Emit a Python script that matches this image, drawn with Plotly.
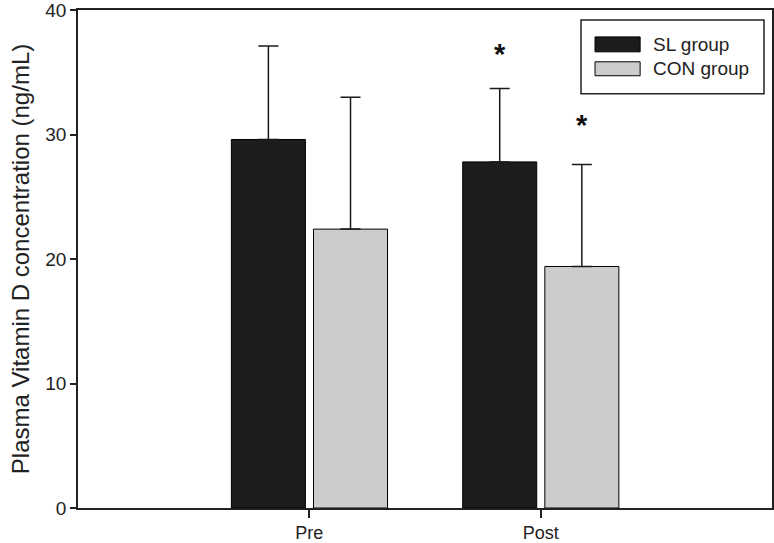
import plotly.graph_objects as go

categories = ["Pre", "Post"]
cat_pos = [1, 2]
series_names = ["SL group", "CON group"]
series_colors = ["#1c1c1c", "#cccccc"]
sl_means = [29.6, 27.8]
sl_sd = [7.5, 5.9]
con_means = [22.4, 19.4]
con_sd = [10.6, 8.2]
star_y = [36.5, 30.8]

FONT = "Arial, Liberation Sans, sans-serif"
fig = go.Figure()
for name, color, means, sd, off in [
    (series_names[0], series_colors[0], sl_means, sl_sd, -0.337),
    (series_names[1], series_colors[1], con_means, con_sd, 0.018),
]:
    fig.add_trace(go.Bar(
        x=cat_pos, y=means, name=name, width=0.32, offset=off,
        marker=dict(color=color, line=dict(color="#000000", width=1)),
        error_y=dict(type="data", array=sd, arrayminus=[0, 0], symmetric=False,
                     color="#1a1a1a", thickness=1.5, width=10),
        showlegend=False,
    ))

# significance stars on Post bars
fig.add_annotation(x=cat_pos[1] - 0.177, y=star_y[0], text="<b>*</b>", showarrow=False,
                   font=dict(size=29, family=FONT, color="#111"), yanchor="middle")
fig.add_annotation(x=cat_pos[1] + 0.178, y=star_y[1], text="<b>*</b>", showarrow=False,
                   font=dict(size=29, family=FONT, color="#111"), yanchor="middle")

# legend box (drawn manually to match wide swatches)
fig.add_shape(type="rect", xref="paper", yref="paper", x0=0.7248, x1=0.9885, y0=0.832, y1=0.98,
              line=dict(color="#222", width=1.5), fillcolor="white", layer="above")
sw_y = [(0.916, 0.946), (0.868, 0.896)]
txt_y = [0.931, 0.882]
for i in range(2):
    fig.add_shape(type="rect", xref="paper", yref="paper", x0=0.745, x1=0.810,
                  y0=sw_y[i][0], y1=sw_y[i][1], fillcolor=series_colors[i],
                  line=dict(color="#000", width=1), layer="above")
    fig.add_annotation(xref="paper", yref="paper", x=0.8256, y=txt_y[i], text=series_names[i],
                       showarrow=False, xanchor="left", yanchor="middle",
                       font=dict(size=19, family=FONT, color="#222"))

fig.update_layout(
    width=774, height=543,
    margin=dict(l=78, r=2, t=10, b=35),
    plot_bgcolor="white", paper_bgcolor="white",
    font=dict(family=FONT, size=19, color="#222"),
    showlegend=False,
    xaxis=dict(range=[0, 3], tickvals=cat_pos, ticktext=categories,
               showline=True, linecolor="#222", linewidth=1.5, mirror=True,
               ticks="outside", ticklen=8, tickcolor="#222", tickwidth=1.5,
               showgrid=False, zeroline=False, tickfont=dict(size=18),
               ticklabeloverflow="allow", automargin=False),
    yaxis=dict(range=[0, 40], tickvals=[0, 10, 20, 30, 40],
               showline=True, linecolor="#222", linewidth=1.5, mirror=True,
               ticks="outside", ticklen=6, tickcolor="#222", tickwidth=1.5,
               showgrid=False, zeroline=False, tickfont=dict(size=19),
               ticklabeloverflow="allow", automargin="left",
               title=dict(text="Plasma Vitamin D concentration (ng/mL)", font=dict(size=24), standoff=9)),
)
fig.write_html("out.html", post_script="document.body.style.margin='0';",
               config={"displayModeBar": False})
